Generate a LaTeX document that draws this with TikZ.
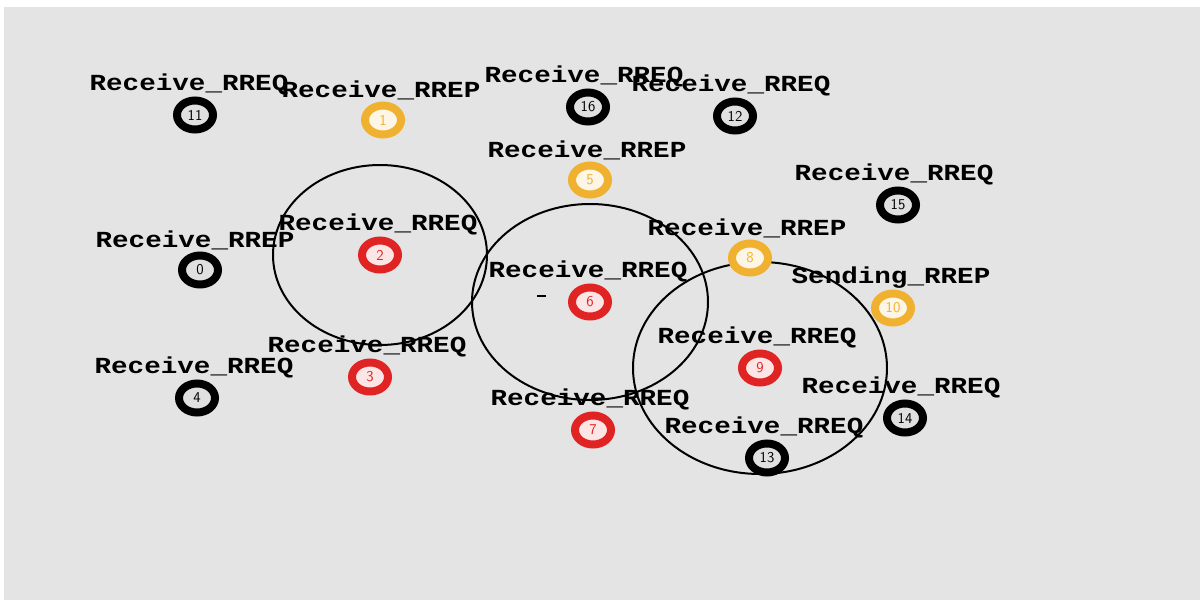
\documentclass[tikz,border=0pt]{standalone}
\usepackage{fontspec}
\usetikzlibrary{positioning,shapes.geometric}
\newfontfamily\namfont[FakeStretch=1.2]{Liberation Mono}
\definecolor{namgray}{HTML}{E4E4E4}
\definecolor{namred}{HTML}{E02424}
\definecolor{namorange}{HTML}{F0B030}

\begin{document}
\begin{tikzpicture}[x=1pt, y=-1pt,
  mote/.style={ellipse, draw=#1, line width=8pt, fill=#1!12!white,
    minimum width=36pt, minimum height=29pt, inner sep=0pt,
    text=#1, font=\sffamily\fontsize{15}{15}\selectfont},
  tag/.style={inner sep=0pt, font=\namfont\bfseries\fontsize{23}{23}\selectfont},
  reach/.style={draw, line width=2pt}
]
  \useasboundingbox (0,0) rectangle (1203,602);
  \fill[namgray] (4,7) rectangle (1200,600);

  % transmission ranges of the forwarding nodes
  \node[mote=namred] (n2) at (380,255) {2};
  \node[mote=namred] (n6) at (590,302) {6};
  \node[mote=namred] (n9) at (760,368) {9};
  \draw[reach] (n2.center) ellipse [x radius=107, y radius=90];
  \draw[reach] (n6.center) ellipse [x radius=118, y radius=98];
  \draw[reach] (n9.center) ellipse [x radius=127, y radius=106];

  \node[mote=namred] (n3) at (370,377) {3};
  \node[mote=namred] (n7) at (593,430) {7};

  \node[mote=black] (n11) at (195,115) {11};
  \node[mote=black] (n16) at (588,107) {16};
  \node[mote=black] (n12) at (735,116) {12};
  \node[mote=black] (n15) at (898,205) {15};
  \node[mote=black] (n0) at (200,270) {0};
  \node[mote=black] (n4) at (197,398) {4};
  \node[mote=black] (n14) at (905,418) {14};
  \node[mote=black] (n13) at (767,458) {13};

  \node[mote=namorange] (n1) at (383,120) {1};
  \node[mote=namorange] (n5) at (590,180) {5};
  \node[mote=namorange] (n8) at (750,258) {8};
  \node[mote=namorange] (n10) at (893,308) {10};

  % packet events
  \node[tag, above=1pt of n11, xshift=-6pt] (t11) {Receive\_RREQ};
  \node[tag, above=1pt of n1, xshift=-2pt] (t1) {Receive\_RREP};
  \node[tag, above=1pt of n16, xshift=-4pt] (t16) {Receive\_RREQ};
  \node[tag, above=1pt of n12, xshift=-4pt] (t12) {Receive\_RREQ};
  \node[tag, above=1pt of n5, xshift=-3pt] (t5) {Receive\_RREP};
  \node[tag, above=1pt of n15, xshift=-4pt] (t15) {Receive\_RREQ};
  \node[tag, above=1pt of n0, xshift=-5pt] (t0) {Receive\_RREP};
  \node[tag, above=1pt of n2, xshift=-2pt] (t2) {Receive\_RREQ};
  \node[tag, above=1pt of n6, xshift=-2pt] (t6) {Receive\_RREQ};
  \node[tag, above=1pt of n8, xshift=-3pt] (t8) {Receive\_RREP};
  \node[tag, above=1pt of n10, xshift=-2pt] (t10) {Sending\_RREP};
  \node[tag, above=1pt of n3, xshift=-3pt] (t3) {Receive\_RREQ};
  \node[tag, above=1pt of n4, xshift=-3pt] (t4) {Receive\_RREQ};
  \node[tag, above=1pt of n9, xshift=-3pt] (t9) {Receive\_RREQ};
  \node[tag, above=1pt of n7, xshift=-3pt] (t7) {Receive\_RREQ};
  \node[tag, above=1pt of n14, xshift=-4pt] (t14) {Receive\_RREQ};
  \node[tag, above=1pt of n13, xshift=-3pt] (t13) {Receive\_RREQ};
  \draw[line width=2pt] (537,296) -- (546,296);
\end{tikzpicture}
\end{document}
